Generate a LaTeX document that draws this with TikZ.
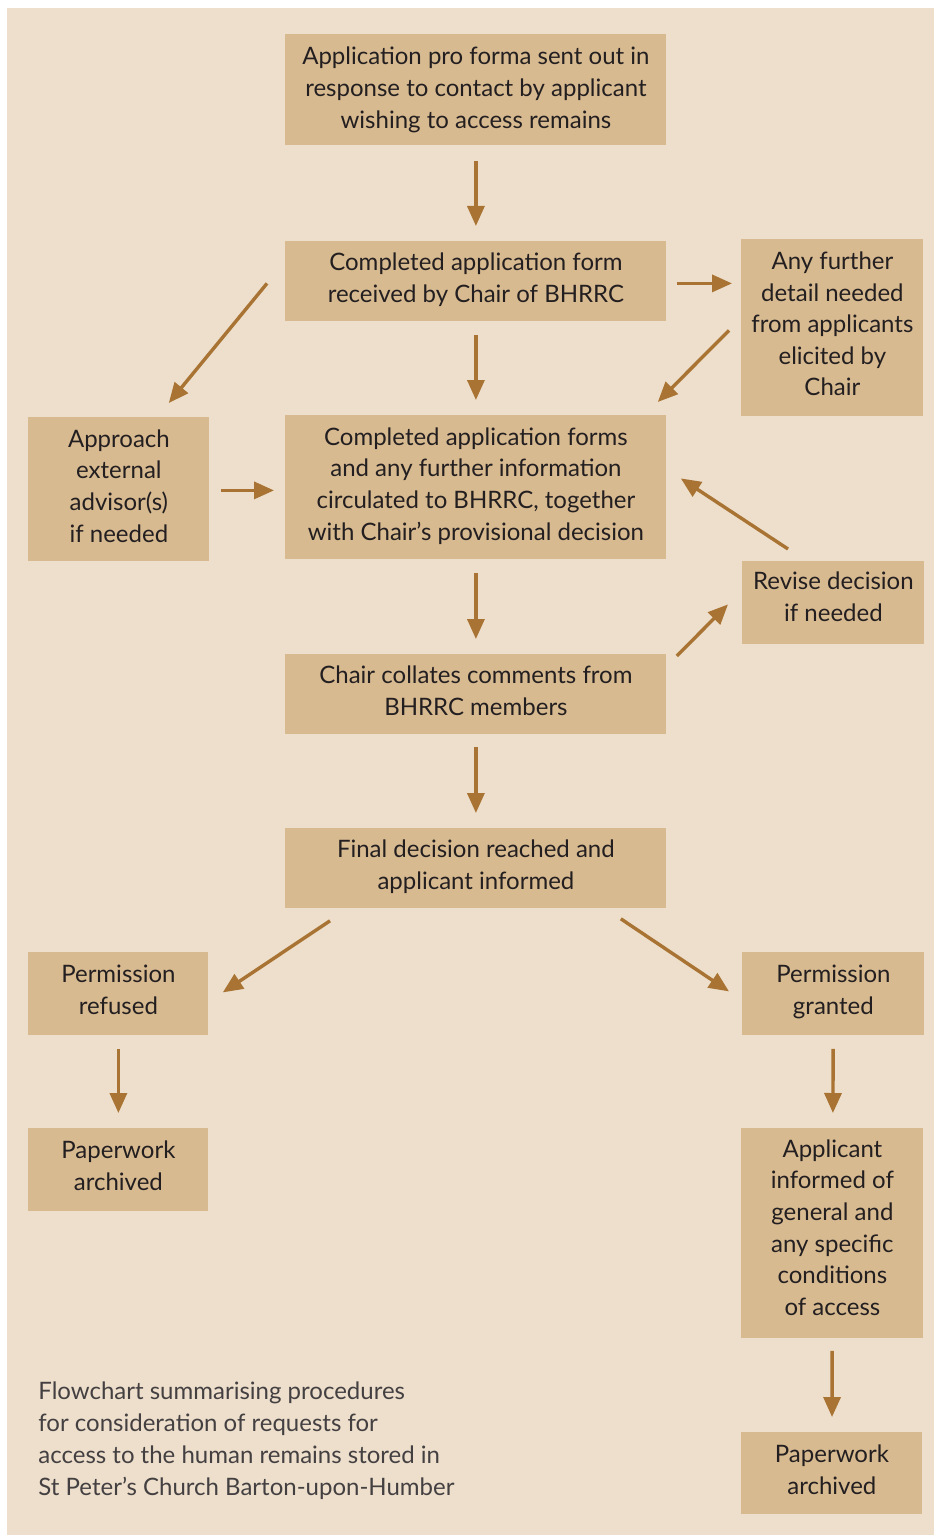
\documentclass[tikz,border=0pt]{standalone}
\usepackage{fontspec}
\setmainfont{Lato}
\usetikzlibrary{arrows.meta,calc}
\definecolor{bg}{HTML}{EDDFCB}
\definecolor{boxc}{HTML}{D8BA91}
\definecolor{arr}{HTML}{A87333}
\definecolor{txt}{HTML}{231F20}
\definecolor{captc}{HTML}{444042}
\begin{document}
\begin{tikzpicture}[x=0.5pt,y=-0.5pt,
  box/.style={fill=boxc, draw=none, inner sep=0pt, align=center, text=txt,
    font=\fontsize{12}{15.8}\selectfont, anchor=north west,
    execute at end node={\rule[-#1]{0pt}{0pt}}},
  box/.default=4pt,
  flow/.style={draw=arr, line width=1.7pt, -{Triangle[length=10pt,width=8.5pt]}},
  vflow/.style={flow, shorten <=#1, shorten >=7.5pt},
  vflow/.default=6.5pt]
\useasboundingbox (0,0) rectangle (934,1535);
\fill[bg] (7,8) rectangle (934,1535);

\node[box=0pt, minimum width=190.5pt, minimum height=55.5pt] (b1) at (285,34)
  {Application pro forma sent out in\\response to contact by applicant\\wishing to access remains};
\node[box, minimum width=190.5pt, minimum height=40pt] (b2) at (285,241)
  {Completed application form\\received by Chair of BHRRC};
\node[box, minimum width=91pt, minimum height=88.5pt] (b3) at (741,239)
  {Any further\\detail needed\\from applicants\\elicited by\\Chair};
\node[box=3.5pt, minimum width=90.5pt, minimum height=72pt] (b4) at (28,417)
  {Approach\\external\\advisor(s)\\if needed};
\node[box=3.5pt, minimum width=190.5pt, minimum height=72pt] (b5) at (285,415)
  {Completed application forms\\and any further information\\circulated to BHRRC, together\\with Chair’s provisional decision};
\node[box=6pt, minimum width=91pt, minimum height=41.5pt] (b6) at (742,561)
  {Revise decision\\if needed};
\node[box, minimum width=190.5pt, minimum height=40pt] (b7) at (285,654)
  {Chair collates comments from\\BHRRC members};
\node[box, minimum width=190.5pt, minimum height=40pt] (b8) at (285,828)
  {Final decision reached and\\applicant informed};
\node[box, minimum width=90pt, minimum height=41.5pt] (b9) at (28,952)
  {Permission\\refused};
\node[box, minimum width=91pt, minimum height=41.5pt] (b10) at (742,952)
  {Permission\\granted};
\node[box, minimum width=90pt, minimum height=41.5pt] (b11) at (28,1128)
  {Paperwork\\archived};
\node[box=6pt, minimum width=91pt, minimum height=105pt] (b12) at (741,1128)
  {Applicant\\informed of\\general and\\any specific\\conditions\\of access};
\node[box, minimum width=90.5pt, minimum height=41pt] (b13) at (741,1432)
  {Paperwork\\archived};

\node[anchor=north west, inner sep=0pt, align=left, text=captc,
  font=\fontsize{12}{16}\selectfont] (cap) at (38,1381)
  {Flowchart summarising procedures\\for consideration of requests for\\access to the human remains stored in\\St Peter’s Church Barton-upon-Humber};

% vertical arrows
\draw[vflow=7.5pt] (b1) -- (b2);
\draw[vflow] (b2) -- (b5);
\draw[vflow] (b5) -- (b7);
\draw[vflow=6pt] (b7) -- (b8);
\draw[vflow] (b9) -- (b11);
\draw[vflow] (b10) -- (b12);
\draw[vflow=6pt] (b12) -- (b13);

% other arrows
\draw[flow] ($(b2.east)+(10,2)$) -- ($(b2.east -| b3.west)+(-9,2)$);
\draw[flow] ($(b4.east)+(11,1)$) -- ($(b4.east -| b5.west)+(-11,1)$);
\draw[flow] ($(b3.west)+(-12,2.5)$) -- ($(b5.north east)+(-9,-13)$);
\draw[flow] ($(b2.west)+(-18,2)$) -- ($(b4.north east)+(-41,-14)$);
\draw[flow] ($(b6.north west)+(46,-12)$) -- ($(b5.east)+(14,-9)$);
\draw[flow] ($(b7.north east)+(10,2)$) -- ($(b6.west)+(-14,1.5)$);
\draw[flow] ($(b8.south west)+(45,12)$) -- ($(b9.east)+(14,-1.5)$);
\draw[flow] ($(b8.south east)+(-46,10)$) -- ($(b10.west)+(-13,-2.5)$);
\end{tikzpicture}
\end{document}
